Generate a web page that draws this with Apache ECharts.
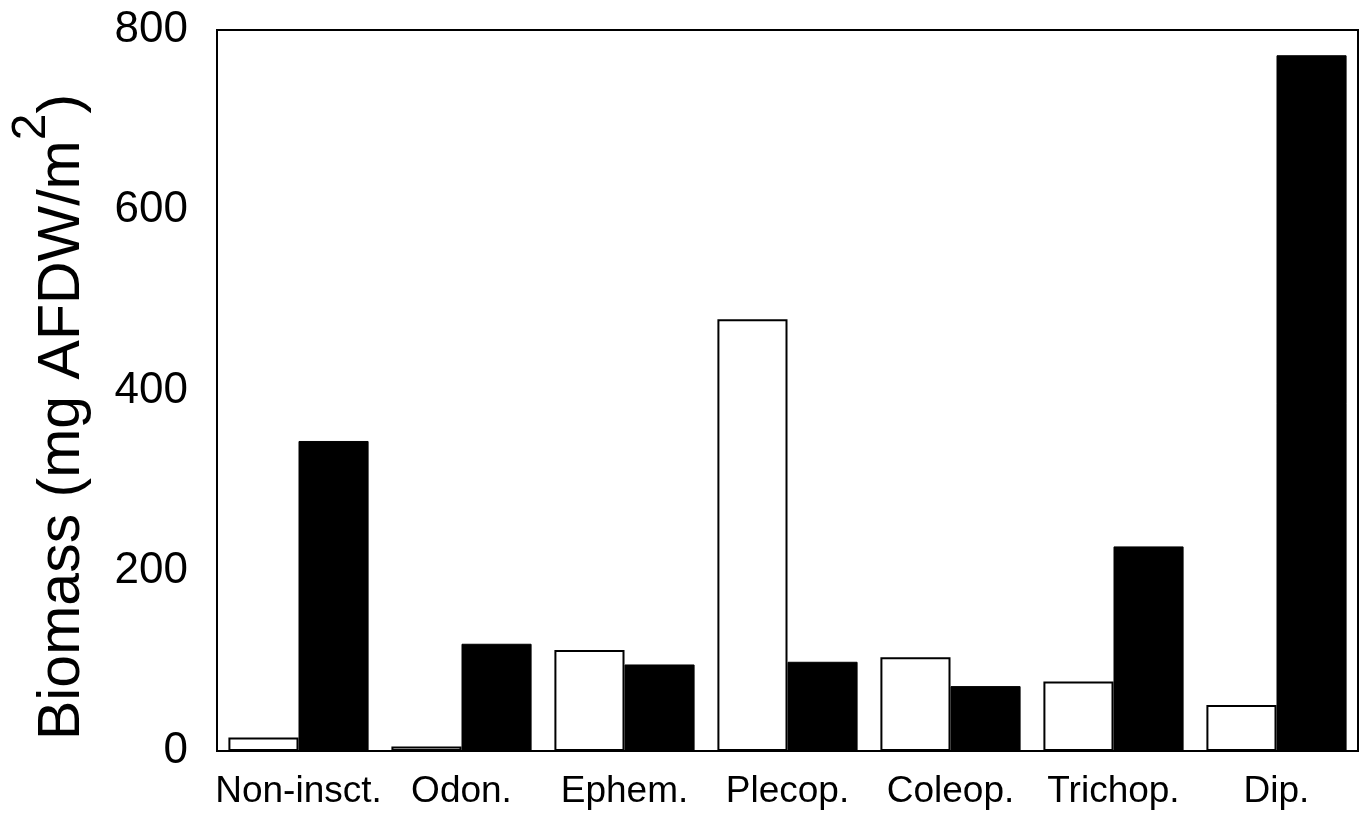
<!DOCTYPE html>
<html>
<head>
<meta charset="utf-8">
<script src="https://cdn.jsdelivr.net/npm/echarts@6/dist/echarts.min.js"></script>
<style>
  html, body { margin: 0; padding: 0; background: #fff; }
  #chart { width: 1363px; height: 818px; }
</style>
</head>
<body>
<div id="chart"></div>
<script>
// Taxon groups along the x axis
const categories = ['Non-insct.', 'Odon.', 'Ephem.', 'Plecop.', 'Coleop.', 'Trichop.', 'Dip.'];
// Biomass, mg AFDW/m2: open bars and filled bars
const openValues = [15, 5, 112, 479, 104, 77, 51];
const filledValues = [344, 119, 96, 99, 72, 227, 772];
// Value axis ticks
const yTicks = [0, 200, 400, 600, 800];

const FONT = '"Liberation Sans", Arial, Helvetica, sans-serif';

const chart = echarts.init(document.getElementById('chart'));
chart.setOption({
  backgroundColor: '#ffffff',
  animation: false,
  grid: {
    left: 217, right: 5, top: 30, bottom: 67,
    show: true, borderColor: '#000', borderWidth: 2, backgroundColor: 'transparent'
  },
  xAxis: {
    type: 'category',
    data: categories,
    axisLine: { lineStyle: { color: '#000', width: 2 } },
    axisTick: { show: false },
    axisLabel: { color: '#000', fontFamily: FONT, fontSize: 37, margin: 22, interval: 0 }
  },
  yAxis: {
    type: 'value',
    min: yTicks[0],
    max: yTicks[yTicks.length - 1],
    interval: yTicks[1] - yTicks[0],
    axisLine: { show: true, lineStyle: { color: '#000', width: 2 } },
    axisTick: { show: false },
    splitLine: { show: false },
    axisLabel: { color: '#000', fontFamily: FONT, fontSize: 44, margin: 29, padding: [8, 0, 0, 0] }
  },
  // Rotated axis title with a raised exponent
  graphic: [{
    type: 'text',
    x: 63,
    y: 417,
    rotation: Math.PI / 2,
    style: {
      text: '{main|Biomass (mg AFDW/m}{sup|2}{main|)}',
      align: 'center',
      verticalAlign: 'middle',
      fill: '#000',
      rich: {
        main: { fontFamily: FONT, fontSize: 59, lineHeight: 110, verticalAlign: 'middle', fill: '#000' },
        sup: { fontFamily: FONT, fontSize: 48, lineHeight: 48, verticalAlign: 'top', fill: '#000' }
      }
    }
  }],
  series: [
    {
      type: 'bar',
      data: openValues,
      barGap: '0%',
      barCategoryGap: '14%',
      itemStyle: { color: '#fff', borderColor: '#000', borderWidth: 2 }
    },
    {
      type: 'bar',
      data: filledValues,
      itemStyle: { color: '#000', borderColor: '#000', borderWidth: 1 }
    }
  ]
});
</script>
</body>
</html>
